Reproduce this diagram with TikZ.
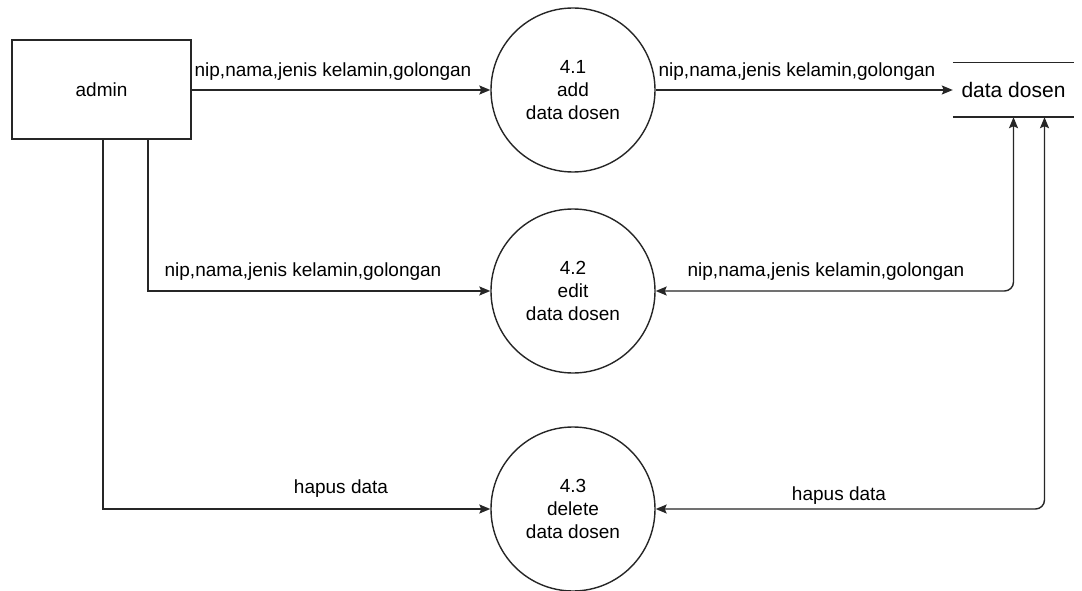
\documentclass[tikz,border=0pt]{standalone}
\usepackage{fontspec}
\setmainfont{Liberation Sans}
\usetikzlibrary{arrows.meta}
\begin{document}
\begin{tikzpicture}[x=1pt,y=-1pt,
  every node/.style={font=\fontsize{19}{23}\selectfont, text=black},
  line/.style={draw=black!85, line width=1.4pt},
  tip/.tip={Stealth[length=11pt,width=9pt,inset=2pt]},
  flow/.style={line, -tip},
  both/.style={line, tip-tip, rounded corners=9pt},
  proc/.style={circle, line, minimum size=164pt, inner sep=0pt, align=center},
  entity/.style={rectangle, line, minimum width=179pt, minimum height=99pt},
  lbl/.style={inner sep=0pt}]
\useasboundingbox (0,0) rectangle (1082,591);
\fill[white] (0,0) rectangle (1082,591);

% external entity
\node[entity] (admin) at (101.5,89.5) {admin};

% processes
\node[proc] (p1) at (573,90) {4.1\\add\\data dosen};
\node[proc] (p2) at (573,291) {4.2\\edit\\data dosen};
\node[proc] (p3) at (573,509) {4.3\\delete\\data dosen};

% data store
\node[minimum width=121pt, minimum height=54pt, inner sep=0pt,
      font=\fontsize{21}{25}\selectfont] (ds) at (1013.5,90) {data dosen};
\draw[line] (ds.north west) -- (ds.north east);
\draw[line] (ds.south west) -- (ds.south east);

% flows
\draw[flow] (admin.east |- p1.west) -- (p1.west);
\draw[flow] (p1.east) -- (ds.west);
\draw[flow] ([xshift=46.5pt]admin.south) |- (p2.west);
\draw[flow] ([xshift=1.5pt]admin.south) |- (p3.west);
\draw[both] (ds.south) |- (p2.east);
\draw[both] ([xshift=31pt]ds.south) |- (p3.east);

% flow labels
\node[lbl] (l1) at (333,72) {nip,nama,jenis kelamin,golongan};
\node[lbl] (l2) at (797,72) {nip,nama,jenis kelamin,golongan};
\node[lbl] (l3) at (303,272) {nip,nama,jenis kelamin,golongan};
\node[lbl] (l4) at (826,272) {nip,nama,jenis kelamin,golongan};
\node[lbl] (l5) at (341,489) {hapus data};
\node[lbl] (l6) at (839,496) {hapus data};
\end{tikzpicture}
\end{document}
